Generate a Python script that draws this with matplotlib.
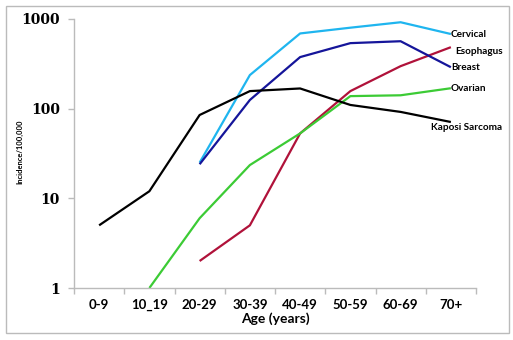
import matplotlib
matplotlib.use("Agg")
import matplotlib.pyplot as plt
from matplotlib.patches import Rectangle
import numpy as np

categories = ["0-9", "10_19", "20-29", "30-39", "40-49", "50-59", "60-69", "70+"]
kaposi = [5, 12, 85, 157, 168, 110, 92, 71]
cervical = [None, None, 25, 237, 690, 800, 920, 680]
breast = [None, None, 24, 125, 376, 538, 565, 290]
esophagus = [None, None, 2, 5, 53, 157, 298, 485]
ovarian = [None, 1, 6, 23.5, 53, 138, 141, 169]

series = [
    ("Cervical", cervical, "#1FB5EF", (0, 0)),
    ("Esophagus", esophagus, "#B0123A", (3, -3)),
    ("Breast", breast, "#15159A", (0, 0)),
    ("Ovarian", ovarian, "#3CCB35", (0, 0)),
    ("Kaposi Sarcoma", kaposi, "#000000", (-14, -4)),
]

FONT = "Lato"

fig = plt.figure(figsize=(5.13, 3.40), dpi=100)
ax = fig.add_axes([74/513, 52/340, 402/513, 269/340])

x = np.arange(len(categories))
for name, vals, col, (dx, dy) in series:
    xs = [xi for xi, v in zip(x, vals) if v is not None]
    ys = [v for v in vals if v is not None]
    ax.plot(xs, ys, color=col, lw=1.6, solid_capstyle="butt")
    ax.annotate(name, (xs[-1], ys[-1]), xytext=(dx, dy), textcoords="offset points",
                fontsize=7.2, fontweight="bold", family=FONT,
                va="center", ha="left", color="black")

ax.set_yscale("log")
ax.set_ylim(1, 1000)
ax.set_xlim(-0.5, len(categories) - 0.5)
ax.set_yticks([1, 10, 100, 1000])
ax.set_yticklabels(["1", "10", "100", "1000"], family="DejaVu Serif", fontweight="bold", fontsize=10)
ax.yaxis.set_minor_locator(matplotlib.ticker.NullLocator())
ax.set_xticks(x)
ax.set_xticklabels(categories, family=FONT, fontweight="bold", fontsize=9.5)
ax.set_xticks(np.arange(-0.5, len(categories)), minor=True)
ax.tick_params(axis="x", which="major", length=0, pad=8)
ax.tick_params(axis="x", which="minor", length=4, color="#bbbbbb", width=1)
ax.tick_params(axis="y", which="major", length=4, color="#bbbbbb", width=1, pad=6)

for s in ["top", "right"]:
    ax.spines[s].set_visible(False)
for s in ["left", "bottom"]:
    ax.spines[s].set_color("#bbbbbb")
    ax.spines[s].set_linewidth(1)

ax.set_xlabel("Age (years)", family=FONT, fontweight="bold", fontsize=10, labelpad=0.5)
fig.text(20/513, 1 - 152/340, "Incidence/100,000", rotation=90, family=FONT,
         fontweight="bold", fontsize=5.5, ha="center", va="center")

fig.patches.append(Rectangle((6/513, 7/340), 503/513, 327/340, transform=fig.transFigure,
                             fill=False, edgecolor="#bbbbbb", lw=1))

fig.savefig("out.png", dpi=100)
